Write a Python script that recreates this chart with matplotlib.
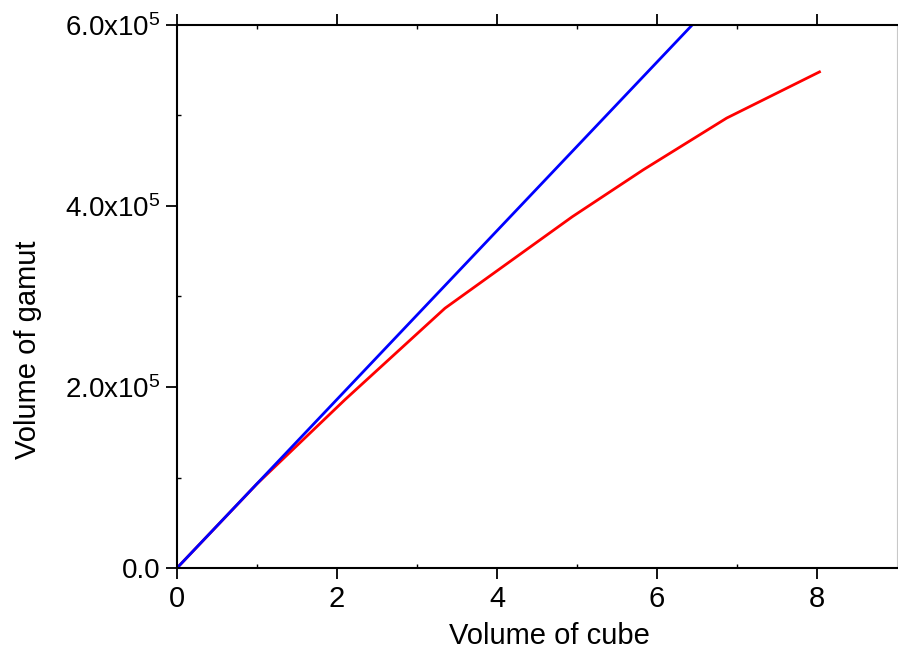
import matplotlib
matplotlib.use("Agg")
import matplotlib.pyplot as plt
from matplotlib.ticker import FixedLocator, MultipleLocator
import numpy as np

plt.rcParams['font.family'] = ['Liberation Sans', 'DejaVu Sans']
plt.rcParams['mathtext.fontset'] = 'custom'
plt.rcParams['mathtext.rm'] = 'Liberation Sans'
plt.rcParams['mathtext.it'] = 'Liberation Sans'

# --- data ---
cube_vol = [0, 1.0, 2.1, 3.35, 4.94, 5.83, 6.87, 8.03]
gamut_vol = [0, 0.93e5, 1.86e5, 2.87e5, 3.88e5, 4.40e5, 4.97e5, 5.48e5]

ideal_x = [0, 8.03]
ideal_y = [0, 7.48e5]

y_ticks = [0, 2e5, 4e5, 6e5]
y_tick_labels = ["0.0", "2.0x10$^5$", "4.0x10$^5$", "6.0x10$^5$"]

fig = plt.figure(figsize=(8.98, 6.53), dpi=100)
ax = fig.add_axes([0.197, 0.130, 0.802, 0.832])

ax.plot(cube_vol, gamut_vol, color="#ff0000", lw=2.0)
ax.plot(ideal_x, ideal_y, color="#0000ff", lw=2.0)

ax.set_xlim(0, 9)
ax.set_ylim(0, 6e5)

ax.xaxis.set_major_locator(FixedLocator([0, 2, 4, 6, 8]))
ax.xaxis.set_minor_locator(FixedLocator([1, 3, 5, 7]))
ax.yaxis.set_major_locator(FixedLocator(y_ticks))
ax.yaxis.set_minor_locator(MultipleLocator(1e5))
ax.set_yticklabels(y_tick_labels)

ax.tick_params(axis="both", which="major", direction="out", length=8, width=1.3,
               labelsize=20, top=True, right=False, pad=4)
ax.tick_params(axis="x", which="major", labelsize=21)
ax.tick_params(axis="both", which="minor", direction="in", length=3, width=1.0,
               top=True, right=False)

for side in ["left", "bottom", "top"]:
    ax.spines[side].set_linewidth(1.5)
ax.spines["right"].set_color("#c8c8c8")
ax.spines["right"].set_linewidth(0.8)

ax.set_xlabel("Volume of cube", fontsize=21)
ax.set_ylabel("Volume of gamut", fontsize=21)
ax.xaxis.set_label_coords(0.517, -0.10)
ax.yaxis.set_label_coords(-0.188, 0.401)

fig.savefig("out.png", dpi=100)
